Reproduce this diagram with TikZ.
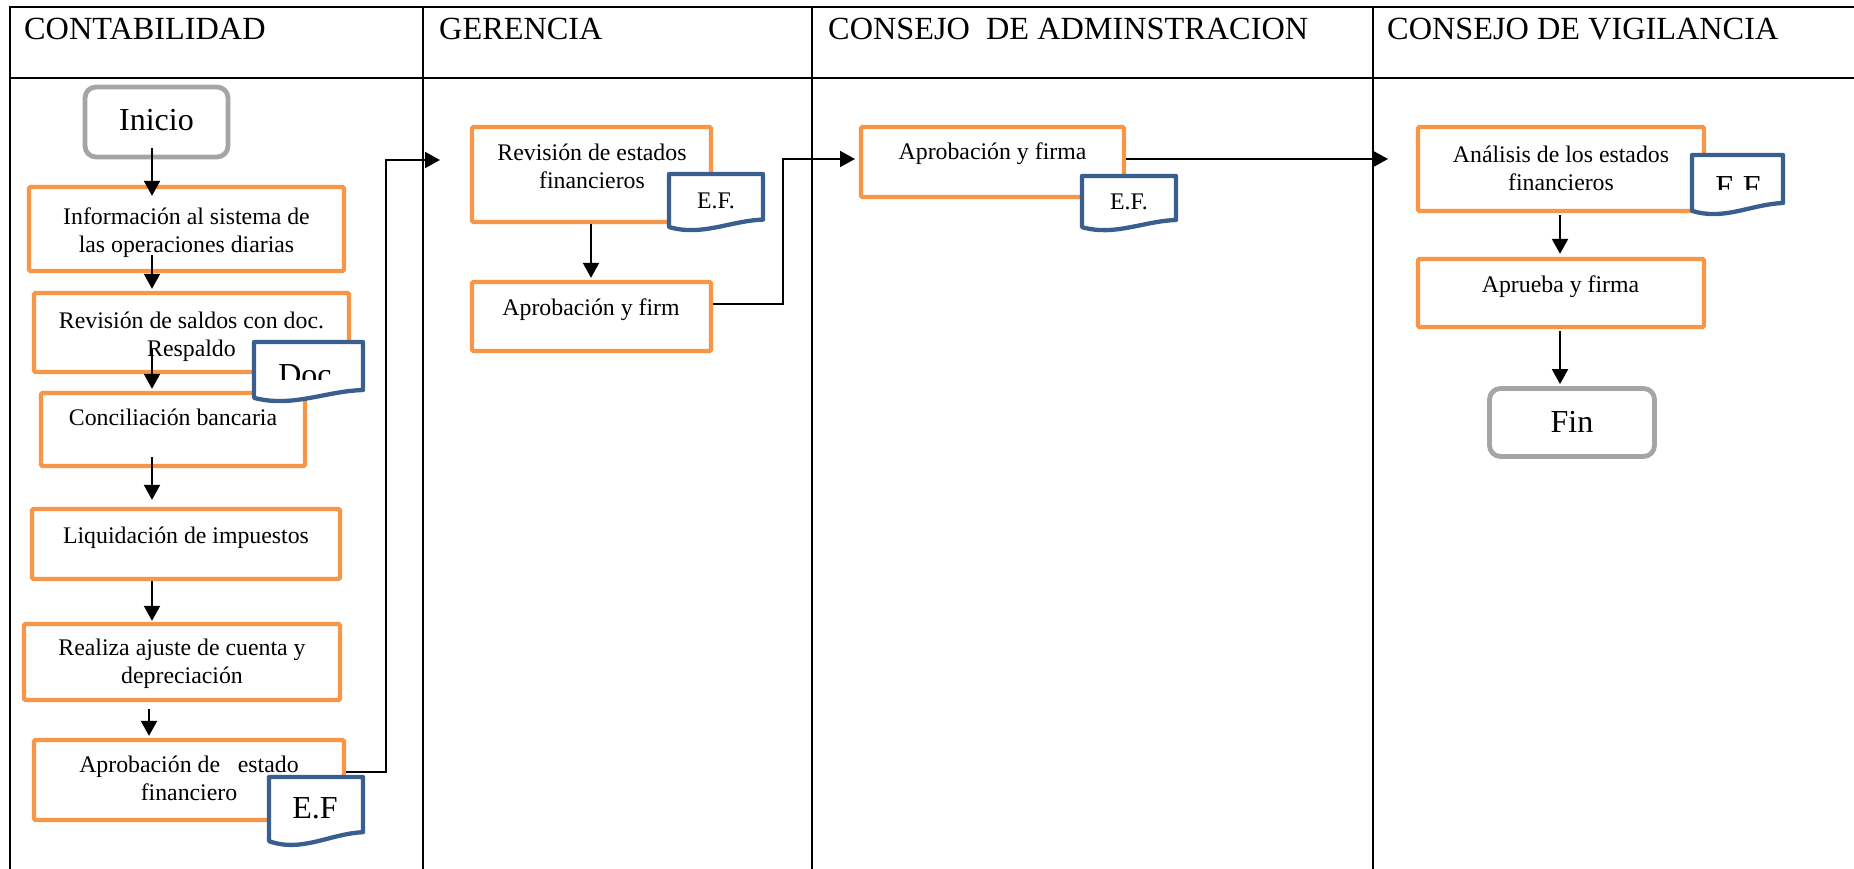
\documentclass[tikz,border=0pt]{standalone}
\usepackage{fontspec}
\setmainfont{Liberation Serif}
\usetikzlibrary{arrows.meta}
\definecolor{procorange}{HTML}{F79646}
\definecolor{termgray}{HTML}{A5A5A5}
\definecolor{docblue}{HTML}{3A5F8E}

% document symbol: #1,#2 top-left corner, #3 width, #4 height down to the lowest point of the wave
\newcommand{\docshape}[4]{%
  \draw[docline] (#1,#2) -- ({#1+#3},#2) -- ({#1+#3},{#2+0.8*#4})
    .. controls ({#1+0.65*#3},{#2+0.82*#4}) and ({#1+0.35*#3},{#2+1.1*#4}) ..
    (#1,{#2+0.93*#4}) -- cycle;}

\begin{document}
\begin{tikzpicture}[x=1pt,y=-1pt,
  grid/.style={line width=2pt,black},
  proc/.style={draw=procorange,line width=4.3pt,rounded corners=1.5pt,fill=white,inner sep=0pt},
  term/.style={draw=termgray,line width=4.8pt,rounded corners=11pt,fill=white,inner sep=0pt},
  docline/.style={draw=docblue,line width=4.3pt,fill=white,line join=round},
  lbl/.style={font=\fontsize{23.8}{28}\selectfont,align=center,anchor=base,inner sep=0pt},
  big/.style={font=\fontsize{32}{38}\selectfont,anchor=base,inner sep=0pt},
  head/.style={font=\fontsize{32.3}{38}\selectfont,anchor=base west,inner sep=0pt},
  link/.style={line width=2pt,black},
  arr/.style={line width=2pt,black,-{Triangle[length=15pt,width=16pt]}}]
\useasboundingbox (0,0) rectangle (1854,869);

% swimlane table
\draw[grid] (10,7) -- (1854,7);
\draw[grid] (10,78) -- (1854,78);
\draw[grid] (10,6) -- (10,869);
\draw[grid] (423,6) -- (423,869);
\draw[grid] (812,6) -- (812,869);
\draw[grid] (1373,6) -- (1373,869);

\node[head] (h1) at (24,39.5) {CONTABILIDAD};
\node[head] (h2) at (439,39.5) {GERENCIA};
\node[head] (h3) at (828,39.5) {CONSEJO\ \ DE ADMINSTRACION};
\node[head] (h4) at (1387,39.5) {CONSEJO DE VIGILANCIA};

% CONTABILIDAD lane
\node[term,minimum width=143pt,minimum height=70pt] (inicio) at (156.5,122) {};
\node[proc,minimum width=315pt,minimum height=84pt] (info) at (186.5,229) {};
\node[proc,minimum width=315pt,minimum height=79pt] (rsal) at (191.5,332.5) {};
\node[proc,minimum width=264pt,minimum height=73pt] (conc) at (173,429.5) {};
\node[proc,minimum width=308pt,minimum height=70pt] (liq) at (186,544) {};
\node[proc,minimum width=316pt,minimum height=76pt] (real) at (182,662) {};
\node[proc,minimum width=310pt,minimum height=80pt] (apr) at (189,780) {};

% two-line labels are placed by the baseline of their last line
\node[big] (inicioT) at (156.5,131) {Inicio};
\node[lbl] (infoT) at (186.5,252) {Información al sistema de\\las operaciones diarias};
\node[lbl] (rsalT) at (191.5,356) {Revisión de saldos con doc.\\Respaldo};
\node[lbl] (concT) at (173,425) {Conciliación bancaria};
\node[lbl] (liqT) at (186,543) {Liquidación de impuestos};
\node[lbl] (realT) at (182,683) {Realiza ajuste de cuenta y\\depreciación};
\node[lbl] (aprT) at (189,800) {Aprobación de\ \ \ estado\\financiero};

% GERENCIA lane
\node[proc,minimum width=239pt,minimum height=95pt] (grev) at (591.5,174.5) {};
\node[proc,minimum width=239pt,minimum height=69pt] (gfirm) at (591.5,316.5) {};
\node[lbl] (grevT) at (592,189) {Revisión de estados\\financieros};
\node[lbl] (gfirmT) at (591,315) {Aprobación y firm};

% CONSEJO DE ADMINISTRACION lane
\node[proc,minimum width=263pt,minimum height=70pt] (cfirm) at (992.5,162) {};
\node[lbl] (cfirmT) at (992.5,160) {Aprobación y firma};

% CONSEJO DE VIGILANCIA lane
\node[proc,minimum width=286pt,minimum height=84pt] (vana) at (1561,169) {};
\node[proc,minimum width=286pt,minimum height=68pt] (vapr) at (1561,293) {};
\node[term,minimum width=165pt,minimum height=68pt] (fin) at (1572,422.5) {};
\node[lbl] (vanaT) at (1561,190) {Análisis de los estados\\financieros};
\node[lbl] (vaprT) at (1560.5,292) {Aprueba y firma};
\node[big] (finT) at (1572,432) {Fin};

% vertical flow lines
\coordinate (xa) at (152,0);
\coordinate (xb) at (149,0);
\coordinate (xg) at (591,0);
\coordinate (xv) at (1560,0);
\draw[arr,shorten <=-11pt,shorten >=-11pt] (xa |- inicio.south) -- (xa |- info.north);
\draw[arr,shorten <=-18pt,shorten >=2pt] (xa |- info.south) -- (xa |- rsal.north);
\draw[arr,shorten <=-25pt,shorten >=2pt] (xa |- rsal.south) -- (xa |- conc.north);
\draw[arr,shorten <=-11pt,shorten >=7pt] (xa |- conc.south) -- (xa |- liq.north);
\draw[arr,shorten >=1pt] (xa |- liq.south) -- (xa |- real.north);
\draw[arr,shorten <=7pt,shorten >=2pt] (xb |- real.south) -- (xb |- apr.north);
\draw[arr,shorten >=2pt] (xg |- grev.south) -- (xg |- gfirm.north);
\draw[arr,shorten <=2pt,shorten >=3pt] (xv |- vana.south) -- (xv |- vapr.north);
\draw[arr,shorten <=2pt,shorten >=2pt] (xv |- vapr.south) -- (xv |- fin.north);

% hand-offs between lanes
\coordinate (gin) at (440,160);
\coordinate (cin) at (855,159);
\coordinate (vin) at (1388,159);
\draw[arr] ([yshift=8pt]apr.east) -- ++(40,0) |- (gin);
\draw[arr] ([yshift=12.5pt]gfirm.east) -- ++(70,0) |- (cin);
\draw[arr] ([yshift=3pt]cfirm.east) -- (vin);

% document symbols
\docshape{254}{342}{109}{60}
\begin{scope}
  \clip (254,342) rectangle (363,379);
  \node[big] (docT) at (305,385) {Doc};
\end{scope}

\docshape{269}{777}{94}{69}
\node[big] (efA) at (315,818) {E.F};

\docshape{669}{174}{94}{57}
\node[lbl] (efG) at (716,208) {E.F.};

\docshape{1082}{176}{94}{55}
\node[lbl] (efC) at (1129,210) {E.F.};

\docshape{1692}{155}{91}{60}
\begin{scope}
  \clip (1692,155) rectangle (1783,190);
  \node[big] (efV) at (1738,197) {E.F};
\end{scope}
\end{tikzpicture}
\end{document}
